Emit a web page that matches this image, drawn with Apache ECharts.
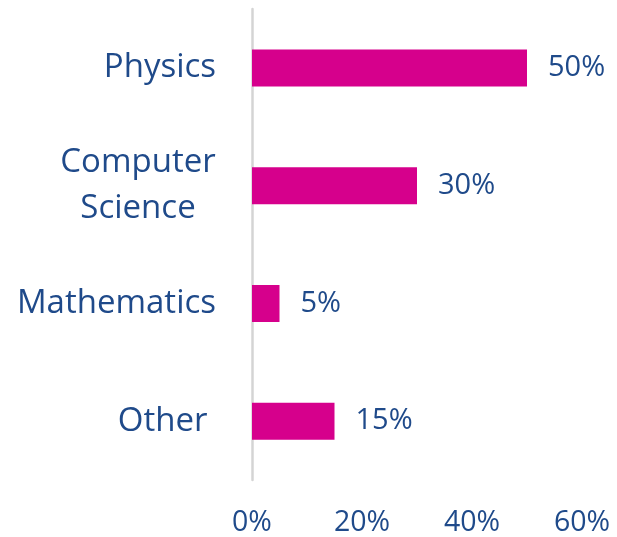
<!DOCTYPE html>
<html>
<head>
<meta charset="utf-8">
<script src="https://cdn.jsdelivr.net/npm/echarts@6/dist/echarts.min.js"></script>
<style>
  html, body { margin: 0; padding: 0; background: #fff; }
  #chart { width: 617px; height: 537px; }
</style>
</head>
<body>
<div id="chart"></div>
<script>
const categories = ['Physics', 'Computer\nScience', 'Mathematics', 'Other '];
const shares = [50, 30, 5, 15];
const xTicks = [0, 20, 40, 60];

const textColor = '#1f4a8a';
const barColor = '#d6008c';
const fontFamily = '"Open Sans", sans-serif';

const chart = echarts.init(document.getElementById('chart'));

chart.setOption({
  animation: false,
  backgroundColor: '#fff',
  grid: { left: 252, right: 35, top: 9, bottom: 56 },
  xAxis: {
    type: 'value',
    min: xTicks[0],
    max: xTicks[xTicks.length - 1],
    interval: xTicks[1] - xTicks[0],
    axisLine: { show: false },
    axisTick: { show: false },
    splitLine: { show: false },
    axisLabel: {
      color: textColor,
      fontFamily,
      fontSize: 28.5,
      margin: 28,
      formatter: (v) => v + '%',
    },
  },
  yAxis: {
    type: 'category',
    data: categories,
    inverse: true,
    axisLine: { show: true, lineStyle: { color: '#d4d4d4', width: 2.5 } },
    axisTick: { show: false },
    axisLabel: {
      color: textColor,
      fontFamily,
      fontSize: 33,
      margin: 36,
      formatter: (v) => {
        if (v.indexOf('\n') >= 0) {
          return v.split('\n').map((s) => '{m|' + s + '}').join('\n');
        }
        return v;
      },
      rich: {
        m: {
          color: textColor,
          fontFamily,
          fontSize: 33,
          width: 156,
          align: 'center',
          lineHeight: 46,
        },
      },
    },
  },
  series: [
    {
      type: 'bar',
      data: shares,
      barWidth: 37,
      itemStyle: { color: barColor },
      label: {
        show: true,
        position: 'right',
        distance: 21,
        color: textColor,
        fontFamily,
        fontSize: 29,
        formatter: (p) => p.value + '%',
      },
    },
  ],
});
</script>
</body>
</html>
